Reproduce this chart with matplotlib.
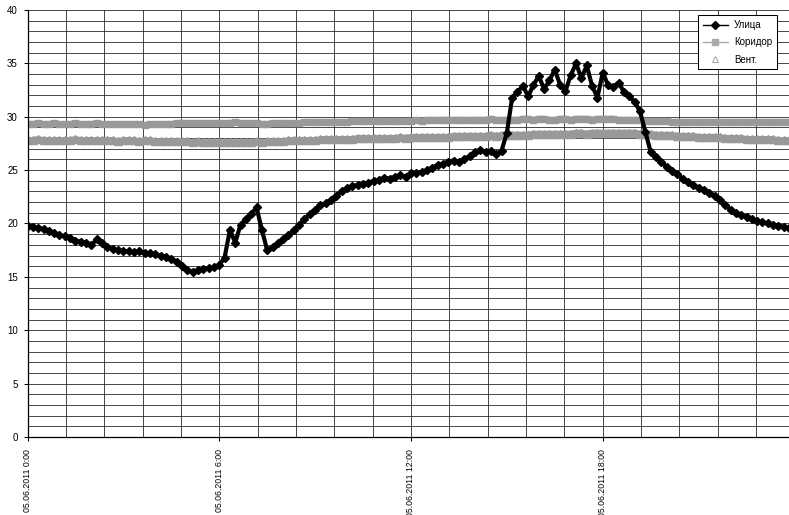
import numpy as np
import matplotlib
matplotlib.use("Agg")
import matplotlib.pyplot as plt
from matplotlib.lines import Line2D

plt.rcParams['font.family'] = ['Liberation Sans', 'DejaVu Sans']

# readings every 10 minutes, 05.06.2011 0:00 .. 23:50 (one row per hour)
street = [
    19.8, 19.7, 19.6, 19.5, 19.3, 19.1,
    18.9, 18.8, 18.6, 18.4, 18.3, 18.2,
    18.0, 18.5, 18.2, 17.8, 17.6, 17.5,
    17.4, 17.4, 17.3, 17.4, 17.2, 17.2,
    17.1, 17.0, 16.9, 16.7, 16.4, 16.0,
    15.6, 15.5, 15.6, 15.7, 15.8, 15.9,
    16.1, 16.8, 19.4, 18.2, 19.9, 20.4,
    20.9, 21.5, 19.4, 17.5, 17.8, 18.2,
    18.5, 18.9, 19.4, 19.9, 20.4, 20.9,
    21.3, 21.7, 21.9, 22.2, 22.6, 23.0,
    23.3, 23.5, 23.6, 23.7, 23.8, 24.0,
    24.1, 24.3, 24.2, 24.4, 24.5, 24.4,
    24.7, 24.7, 24.8, 25.0, 25.2, 25.5,
    25.6, 25.8, 25.9, 25.8, 26.0, 26.3,
    26.7, 26.9, 26.7, 26.8, 26.5, 26.8,
    28.5, 31.8, 32.3, 32.9, 31.9, 33.0,
    33.8, 32.6, 33.4, 34.4, 33.0, 32.4,
    33.9, 35.0, 33.6, 34.8, 32.9, 31.8,
    34.1, 33.0, 32.8, 33.2, 32.3, 31.9,
    31.4, 30.5, 28.6, 26.7, 26.2, 25.8,
    25.3, 24.9, 24.6, 24.2, 23.9, 23.6,
    23.3, 23.1, 22.9, 22.6, 22.2, 21.7,
    21.3, 21.0, 20.8, 20.6, 20.4, 20.2,
    20.1, 20.0, 19.9, 19.8, 19.7, 19.6,
]

corridor = [
    29.3, 29.3, 29.4, 29.3, 29.3, 29.4,
    29.3, 29.3, 29.3, 29.4, 29.3, 29.3,
    29.3, 29.4, 29.3, 29.3, 29.3, 29.3,
    29.3, 29.3, 29.3, 29.3, 29.2, 29.3,
    29.3, 29.3, 29.3, 29.3, 29.4, 29.4,
    29.4, 29.4, 29.4, 29.4, 29.4, 29.4,
    29.4, 29.4, 29.4, 29.5, 29.4, 29.4,
    29.4, 29.4, 29.3, 29.3, 29.4, 29.4,
    29.4, 29.4, 29.4, 29.4, 29.5, 29.5,
    29.5, 29.5, 29.5, 29.5, 29.5, 29.5,
    29.5, 29.6, 29.6, 29.6, 29.6, 29.6,
    29.6, 29.6, 29.6, 29.6, 29.6, 29.6,
    29.6, 29.7, 29.6, 29.7, 29.7, 29.7,
    29.7, 29.7, 29.7, 29.7, 29.7, 29.7,
    29.7, 29.7, 29.7, 29.8, 29.7, 29.7,
    29.7, 29.7, 29.7, 29.8, 29.8, 29.7,
    29.8, 29.8, 29.7, 29.7, 29.8, 29.8,
    29.7, 29.8, 29.8, 29.8, 29.7, 29.8,
    29.8, 29.8, 29.8, 29.7, 29.7, 29.7,
    29.7, 29.7, 29.6, 29.6, 29.6, 29.6,
    29.6, 29.5, 29.5, 29.5, 29.5, 29.5,
    29.5, 29.5, 29.5, 29.5, 29.5, 29.5,
    29.5, 29.5, 29.5, 29.5, 29.5, 29.5,
    29.5, 29.5, 29.5, 29.5, 29.5, 29.5,
]

vent = [
    27.8, 27.8, 27.9, 27.8, 27.8, 27.8,
    27.8, 27.8, 27.8, 27.9, 27.8, 27.8,
    27.8, 27.8, 27.8, 27.8, 27.8, 27.7,
    27.8, 27.8, 27.8, 27.7, 27.8, 27.8,
    27.7, 27.7, 27.7, 27.7, 27.7, 27.7,
    27.7, 27.6, 27.7, 27.6, 27.6, 27.6,
    27.6, 27.6, 27.6, 27.6, 27.6, 27.6,
    27.6, 27.7, 27.6, 27.7, 27.7, 27.7,
    27.7, 27.8, 27.8, 27.8, 27.8, 27.8,
    27.8, 27.9, 27.9, 27.9, 27.9, 27.9,
    27.9, 27.9, 28.0, 28.0, 28.0, 28.0,
    28.0, 28.0, 28.0, 28.0, 28.1, 28.0,
    28.1, 28.1, 28.1, 28.1, 28.1, 28.1,
    28.1, 28.1, 28.2, 28.2, 28.2, 28.2,
    28.2, 28.2, 28.2, 28.3, 28.2, 28.3,
    28.3, 28.3, 28.3, 28.3, 28.3, 28.4,
    28.4, 28.4, 28.4, 28.4, 28.4, 28.4,
    28.4, 28.5, 28.5, 28.4, 28.5, 28.5,
    28.5, 28.5, 28.5, 28.5, 28.5, 28.5,
    28.5, 28.4, 28.4, 28.4, 28.3, 28.3,
    28.3, 28.3, 28.2, 28.2, 28.2, 28.2,
    28.1, 28.1, 28.1, 28.1, 28.1, 28.0,
    28.0, 28.0, 28.0, 27.9, 27.9, 27.9,
    27.9, 27.9, 27.9, 27.8, 27.8, 27.8,
]

tick_hours = [0, 6, 12, 18]
tick_labels = ['05.06.2011 0:00', '05.06.2011 6:00',
               '05.06.2011 12:00', '05.06.2011 18:00']
legend_labels = ['Улица', 'Коридор', 'Вент.']

hours = np.arange(len(street)) / 6.0

fig = plt.figure(figsize=(7.89, 5.15), dpi=100)
ax = fig.add_axes([0.0349, 0.1515, 0.9651, 0.8291])

# grid: every degree, every 1.2 hours
for v in range(0, 41):
    ax.axhline(v, color='#2a2a2a', lw=0.6, zorder=0)
for k in range(1, 20):
    ax.axvline(k * 1.2, color='#2a2a2a', lw=0.6, zorder=0)

gray = '#999999'
ax.plot(hours, vent, color=gray, lw=4.5, zorder=1, solid_capstyle='butt')
ax.plot(hours, vent, ls='none', marker='^', ms=5.5, color=gray, zorder=1)
ax.plot(hours, corridor, color=gray, lw=4.5, zorder=2,
        marker='s', ms=4.5, mec=gray, mfc=gray)
ax.plot(hours, street, color='black', lw=3, zorder=3,
        marker='D', ms=4.5, mec='black', mfc='black')

ax.set_xlim(0, 23.83)
ax.set_ylim(0, 40)
ax.set_yticks(range(0, 41, 5))
ax.set_xticks(tick_hours)
ax.set_xticklabels(tick_labels, rotation=90, va='top', ha='center')
ax.tick_params(axis='both', labelsize=7, length=3, width=0.75,
               direction='out', pad=4)
ax.tick_params(axis='x', labelsize=6.3, pad=6)

for side in ['top', 'right']:
    ax.spines[side].set_visible(False)
for side in ['left', 'bottom']:
    ax.spines[side].set_linewidth(0.9)

handles = [
    Line2D([], [], color='black', lw=1, marker='D', ms=4),
    Line2D([], [], color='#aaaaaa', lw=1, marker='s', ms=4),
    Line2D([], [], color='#aaaaaa', ls='none', marker='^', ms=5,
           mfc='white', mew=0.8),
]
leg = ax.legend(handles, legend_labels, loc='upper right',
                bbox_to_anchor=(0.984, 0.988), borderaxespad=0,
                fontsize=7, fancybox=False, framealpha=1,
                edgecolor='black', handlelength=2.6, handletextpad=0.6,
                labelspacing=0.75, borderpad=0.5)
leg.get_frame().set_linewidth(0.75)
leg.set_zorder(5)

fig.savefig('out.png', dpi=100)
